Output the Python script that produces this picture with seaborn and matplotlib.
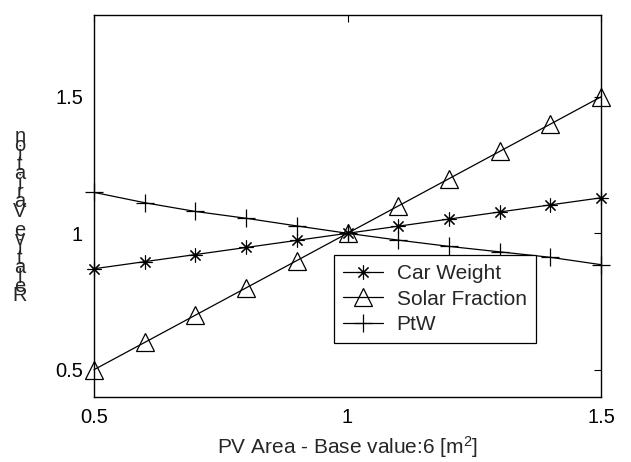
import matplotlib
matplotlib.use("Agg")
import matplotlib.pyplot as plt
import seaborn as sns
import pandas as pd

# Data
pv_area = [0.5, 0.6, 0.7, 0.8, 0.9, 1.0, 1.1, 1.2, 1.3, 1.4, 1.5]
car_weight = [0.87, 0.896, 0.922, 0.948, 0.974, 1.0, 1.026, 1.052, 1.078, 1.104, 1.13]
solar_fraction = [0.5, 0.6, 0.7, 0.8, 0.9, 1.0, 1.1, 1.2, 1.3, 1.4, 1.5]
ptw = [1.15, 1.112, 1.08, 1.055, 1.027, 1.0, 0.975, 0.952, 0.932, 0.912, 0.885]
series_names = ["Car Weight", "Solar Fraction", "PtW"]
xticks = [0.5, 1, 1.5]
yticks = [0.5, 1, 1.5]
tick_labels = ["0.5", "1", "1.5"]
xlabel = "PV Area - Base value:6 [m$^2$]"
ylabel = "Relative Variation"

sns.set_style("white")
plt.rcParams["font.family"] = ["Liberation Sans", "DejaVu Sans"]
plt.rcParams["mathtext.fontset"] = "custom"
plt.rcParams["mathtext.rm"] = "Liberation Sans"
plt.rcParams["mathtext.it"] = "Liberation Sans"

W, H = 631, 462
fig = plt.figure(figsize=(W / 100, H / 100), dpi=100)
ax = fig.add_axes([94 / W, 1 - 397 / H, (601 - 94) / W, (397 - 15) / H])

df = pd.DataFrame({"x": pv_area, "cw": car_weight, "sf": solar_fraction, "ptw": ptw})
sns.lineplot(data=df, x="x", y="cw", ax=ax, color="k", lw=0.9, marker=(8, 2, 0),
             markersize=10, markeredgewidth=0.8, markeredgecolor="k",
             label=series_names[0], clip_on=False)
sns.lineplot(data=df, x="x", y="sf", ax=ax, color="k", lw=0.9, marker="^",
             markersize=13, markeredgewidth=0.9, markerfacecolor="none",
             markeredgecolor="k", label=series_names[1], clip_on=False)
sns.lineplot(data=df, x="x", y="ptw", ax=ax, color="k", lw=0.9, marker="+",
             markersize=13, markeredgewidth=0.9, markeredgecolor="k",
             label=series_names[2], clip_on=False)

ax.set_xlim(0.5, 1.5)
ax.set_ylim(0.4, 1.8)
ax.set_xticks(xticks)
ax.set_xticklabels(tick_labels)
ax.set_yticks(yticks)
ax.set_yticklabels(tick_labels)
ax.tick_params(direction="in", length=5, width=0.8, labelsize=14.5,
               top=True, right=True, colors="k", pad=8)
for s in ax.spines.values():
    s.set_color("k")
    s.set_linewidth(1.0)
ax.set_xlabel(xlabel, fontsize=15, labelpad=5)
ax.set_ylabel("")

leg = ax.legend(loc="upper left", bbox_to_anchor=(334 / W, 1 - 255 / H),
                bbox_transform=fig.transFigure, borderaxespad=0,
                fancybox=False, framealpha=1, edgecolor="k", fontsize=15,
                handlelength=1.9, labelspacing=0.3, borderpad=0.45,
                handletextpad=0.65)
leg.get_frame().set_linewidth(0.9)

# Y label: upright glyphs stacked vertically, read bottom to top (as in reference)
stacked = "\n".join(ylabel[::-1])
fig.text(20 / W, 1 - 216 / H, stacked, fontsize=14.5, ha="center", va="center",
         ma="center", linespacing=0.36)

fig.savefig("out.png", dpi=100)
